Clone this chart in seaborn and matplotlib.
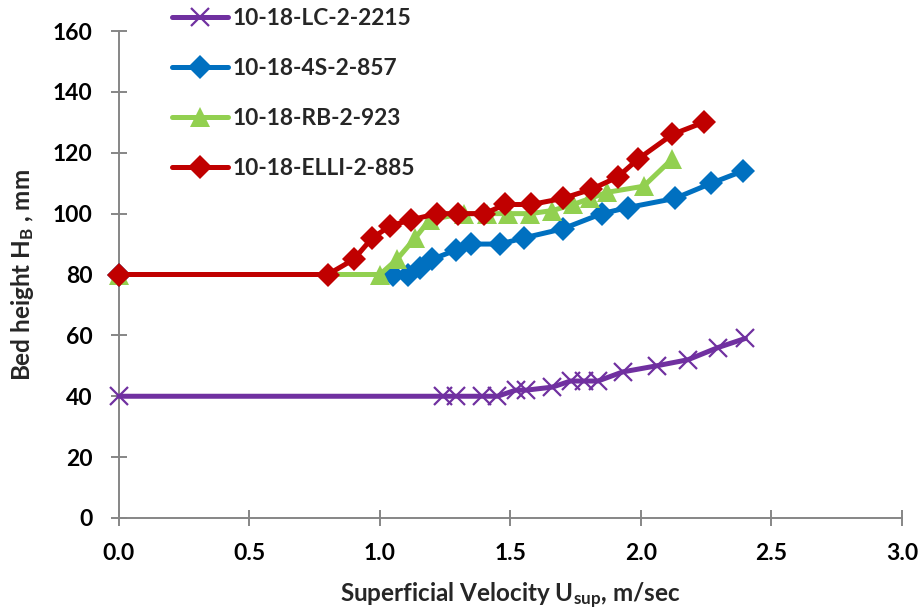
import matplotlib
matplotlib.use("Agg")
import matplotlib.pyplot as plt
import seaborn as sns

# Superficial velocity (m/sec) and bed height (mm) for each run
lc_x = [0.0, 1.24, 1.29, 1.39, 1.45, 1.52, 1.56, 1.66, 1.73, 1.78, 1.835, 1.93, 2.06, 2.18, 2.295, 2.40]
lc_y = [40, 40, 40, 40, 40, 42, 42, 43, 45, 45, 45, 48, 50, 52, 56, 59]

s4_x = [0.0, 1.05, 1.107, 1.153, 1.20, 1.29, 1.35, 1.46, 1.55, 1.70, 1.85, 1.95, 2.13, 2.27, 2.39]
s4_y = [80, 80, 80, 82, 85, 88, 90, 90, 92, 95, 100, 102, 105, 110, 114]

rb_x = [0.0, 1.0, 1.065, 1.135, 1.19, 1.32, 1.41, 1.49, 1.575, 1.66, 1.74, 1.805, 1.87, 2.01, 2.12]
rb_y = [80, 80, 85, 92, 98, 100, 100, 100, 100, 101, 103, 105, 107, 109, 118]

el_x = [0.0, 0.8, 0.9, 0.97, 1.04, 1.12, 1.22, 1.30, 1.40, 1.48, 1.58, 1.70, 1.81, 1.91, 1.99, 2.12, 2.24]
el_y = [80, 80, 85, 92, 96, 98, 100, 100, 100, 103, 103, 105, 108, 112, 118, 126, 130]

series_names = ["10-18-LC-2-2215", "10-18-4S-2-857", "10-18-RB-2-923", "10-18-ELLI-2-885"]

x_ticks = [0.0, 0.5, 1.0, 1.5, 2.0, 2.5, 3.0]
y_ticks = [0, 20, 40, 60, 80, 100, 120, 140, 160]

sns.set_theme(style="white")
plt.rcParams["font.family"] = ["Lato", "DejaVu Sans"]
plt.rcParams["font.weight"] = "bold"
plt.rcParams["mathtext.fontset"] = "custom"
plt.rcParams["mathtext.rm"] = "Lato:bold"
plt.rcParams["mathtext.bf"] = "Lato:bold"
plt.rcParams["mathtext.it"] = "Lato:bold"
plt.rcParams["mathtext.default"] = "bf"

fig = plt.figure(figsize=(9.2, 6.14), dpi=100)
ax = fig.add_axes([119 / 920, 1 - 518 / 614, (902 - 119) / 920, (518 - 31) / 614])

styles = [
    dict(color="#7030A0", marker="x", markersize=13, markeredgewidth=1.6,
         markeredgecolor="#7030A0"),
    dict(color="#0070C0", marker="D", markersize=12, markeredgewidth=0),
    dict(color="#92D050", marker="^", markersize=14, markeredgewidth=0),
    dict(color="#C00000", marker="D", markersize=12, markeredgewidth=0),
]
data = [(lc_x, lc_y), (s4_x, s4_y), (rb_x, rb_y), (el_x, el_y)]

for (xs, ys), name, st in zip(data, series_names, styles):
    sns.lineplot(x=xs, y=ys, ax=ax, label=name, linewidth=3.6,
                 estimator=None, sort=False, clip_on=False, **st)

ax.set_xlim(0, 3.0)
ax.set_ylim(0, 160)
ax.set_xticks(x_ticks)
ax.set_yticks(y_ticks)
ax.set_xticklabels([f"{v:.1f}" for v in x_ticks])
ax.set_yticklabels([str(v) for v in y_ticks])

for side in ["top", "right"]:
    ax.spines[side].set_visible(False)
for side in ["left", "bottom"]:
    ax.spines[side].set_color("#868686")
    ax.spines[side].set_linewidth(1.4)
    ax.spines[side].set_zorder(0.5)

ax.tick_params(axis="both", which="major", direction="inout", length=12,
               width=1.4, color="#868686", labelsize=16.5, labelcolor="black",
               bottom=True, left=True)
ax.tick_params(axis="x", pad=12)
ax.tick_params(axis="y", pad=13)
for lbl in ax.get_xticklabels() + ax.get_yticklabels():
    lbl.set_fontweight("bold")

ax.set_xlabel(r"Superficial Velocity U$_{sup}$, m/sec", fontsize=17.5,
              fontweight="bold", labelpad=12)
ax.set_ylabel(r"Bed height H$_{B}$ , mm", fontsize=17.5, fontweight="bold",
              labelpad=12)

ax.legend(loc="upper left", bbox_to_anchor=(172 / 920, 1 - 8 / 614),
          bbox_transform=fig.transFigure, frameon=False,
          handlelength=2.45, handletextpad=0.2, labelspacing=1.28,
          borderpad=0, borderaxespad=0, prop={"weight": "bold", "size": 16.4})

fig.savefig("out.png", dpi=100)
